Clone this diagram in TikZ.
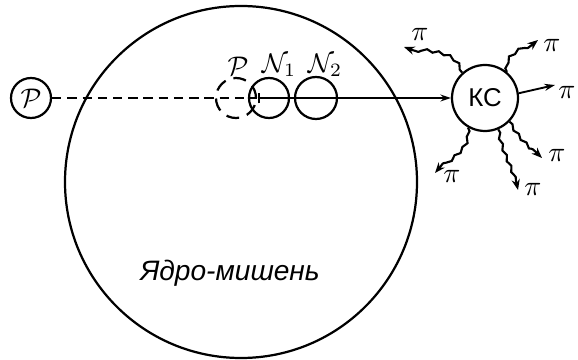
\documentclass[tikz,border=0pt]{standalone}
\usepackage{fontspec}
\newfontfamily\cyrfont{Liberation Sans}
\usetikzlibrary{arrows.meta,decorations.pathmorphing}

\begin{document}
\begin{tikzpicture}[x=0.03cm, y=0.03cm,
  ball/.style={circle, draw, line width=1.9pt, inner sep=0pt},
  letter/.style={scale=2.3, transform shape},
  pion/.style={line width=1.8pt, -{Stealth[length=9pt,width=7pt]},
    decorate, decoration={snake, amplitude=1.1pt, segment length=10pt, post length=8pt}},
  pilabel/.style={scale=2.4, transform shape}]
  \useasboundingbox (0,0) rectangle (578,360);

  % Target nucleus
  \node[ball, minimum size=10.56cm] (target) at (241,178) {};
  \node[font=\cyrfont\itshape\fontsize{24}{28}\selectfont] (tname) at (230,87) {Ядро-мишень};

  % Incident proton
  \node[ball, minimum size=1.2cm] (proton) at (31,262) {};
  \node[letter] (pname) at (31,262) {$\mathcal{P}$};

  % Nucleons inside the nucleus
  \node[ball, dash pattern=on 11pt off 7pt, minimum size=1.2cm] (pghost) at (236,262) {};
  \node[ball, minimum size=1.2cm] (nA) at (269,262) {};
  \node[ball, minimum size=1.26cm] (nB) at (316,262) {};
  \node[letter] (pgname) at (238,294) {$\mathcal{P}$};
  \node[letter] (naname) at (279,295) {$\mathcal{N}_1$};
  \node[letter] (nbname) at (325,295) {$\mathcal{N}_2$};

  % Compound state
  \node[ball, minimum size=1.98cm, font=\cyrfont\fontsize{22}{26}\selectfont] (kc) at (485,262) {КС};

  % Trajectory
  \coordinate (hit) at (258,262);
  \draw[line width=1.4pt, dash pattern=on 8pt off 5pt] (proton) -- (pghost.east);
  \draw[line width=1.4pt, {Bar[width=9pt]}-{Stealth[length=9pt,width=6pt]}] (hit) -- (kc.west);

  % Emitted pions
  \coordinate (e1) at (404,313);
  \coordinate (e2) at (538,320);
  \coordinate (e3) at (555,275);
  \coordinate (e4) at (542,202);
  \coordinate (e5) at (518,170);
  \coordinate (e6) at (435,187);
  \draw[pion] (kc.132) to[out=110, in=-25] (e1);
  \draw[pion] (kc.50) to[out=95, in=-135] (e2);
  \draw[line width=1.6pt, -{Stealth[length=9pt,width=6pt]}] (kc.8) -- (e3);
  \draw[pion] (kc.-44) to[out=-60, in=135] (e4);
  \draw[pion] (kc.-67) to[out=-80, in=100] (e5);
  \draw[pion] (kc.-120) to[out=-85, in=55] (e6);
  \node[pilabel] (pl1) at (420,326) {$\pi$};
  \node[pilabel] (pl2) at (552,315) {$\pi$};
  \node[pilabel] (pl3) at (567,268) {$\pi$};
  \node[pilabel] (pl4) at (557,205) {$\pi$};
  \node[pilabel] (pl5) at (533,171) {$\pi$};
  \node[pilabel] (pl6) at (452,184) {$\pi$};
\end{tikzpicture}
\end{document}
